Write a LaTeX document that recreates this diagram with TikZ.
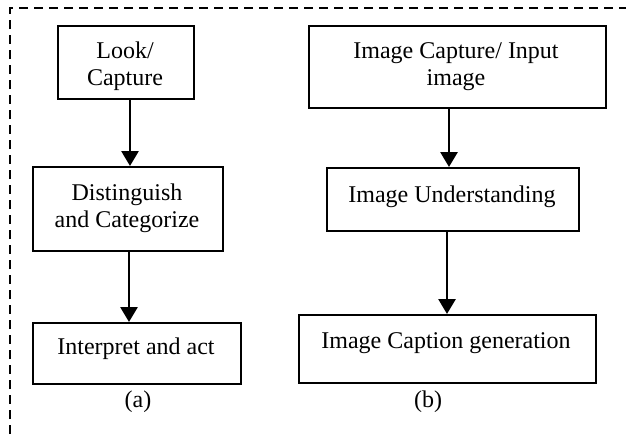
\documentclass[tikz,border=0pt]{standalone}
\usepackage{fontspec}
\setmainfont{Liberation Serif}
\usetikzlibrary{arrows.meta}
\begin{document}
\begin{tikzpicture}[x=0.5pt,y=-0.5pt,
  box/.style={draw, line width=0.9pt, inner sep=0pt, anchor=north west},
  txt/.style={font=\fontsize{12}{13.5}\selectfont, inner sep=0pt, anchor=base, align=center},
  flow/.style={-{Triangle[width=8.5pt,length=7.5pt]}, line width=1.4pt},
  frame/.style={dash pattern=on 4.5pt off 3pt, line width=0.6pt}]
\useasboundingbox (0,0) rectangle (626,434);
\coordinate (fa) at (10,434);
\coordinate (fb) at (10,8);
\coordinate (fc) at (626,8);
\draw[frame] (fa) -- (fb) -- (fc);
% left column
\node[box, minimum width=68pt, minimum height=36.5pt] (b1) at (57,25) {};
\node[box, minimum width=95pt, minimum height=42pt] (b2) at (32,166) {};
\node[box, minimum width=104pt, minimum height=30.5pt] (b3) at (32,322) {};
\node[txt] (t1) at (125,85) {Look/\\Capture};
\node[txt] (t2) at (127,227) {Distinguish\\and Categorize};
\node[txt] (t3) at (136,354) {Interpret and act};
\node[txt] (ca) at (138,407) {(a)};
% right column
\node[box, minimum width=148.5pt, minimum height=41pt] (b4) at (308,25) {};
\node[box, minimum width=126pt, minimum height=31.5pt] (b5) at (326,167) {};
\node[box, minimum width=148.5pt, minimum height=34pt] (b6) at (298,314) {};
\node[txt] (t4) at (456,85) {Image Capture/ Input\\image};
\node[txt] (t5) at (452,202) {Image Understanding};
\node[txt] (t6) at (446,348) {Image Caption generation};
\node[txt] (cb) at (428,407) {(b)};
% arrows
\coordinate (x1) at (130,0);
\coordinate (x2) at (129,0);
\coordinate (x3) at (449,0);
\coordinate (x4) at (447,0);
\draw[flow] (b1.south -| x1) -- (b2.north -| x1);
\draw[flow] (b2.south -| x2) -- (b3.north -| x2);
\draw[flow] (b4.south -| x3) -- (b5.north -| x3);
\draw[flow] (b5.south -| x4) -- (b6.north -| x4);
\end{tikzpicture}
\end{document}
